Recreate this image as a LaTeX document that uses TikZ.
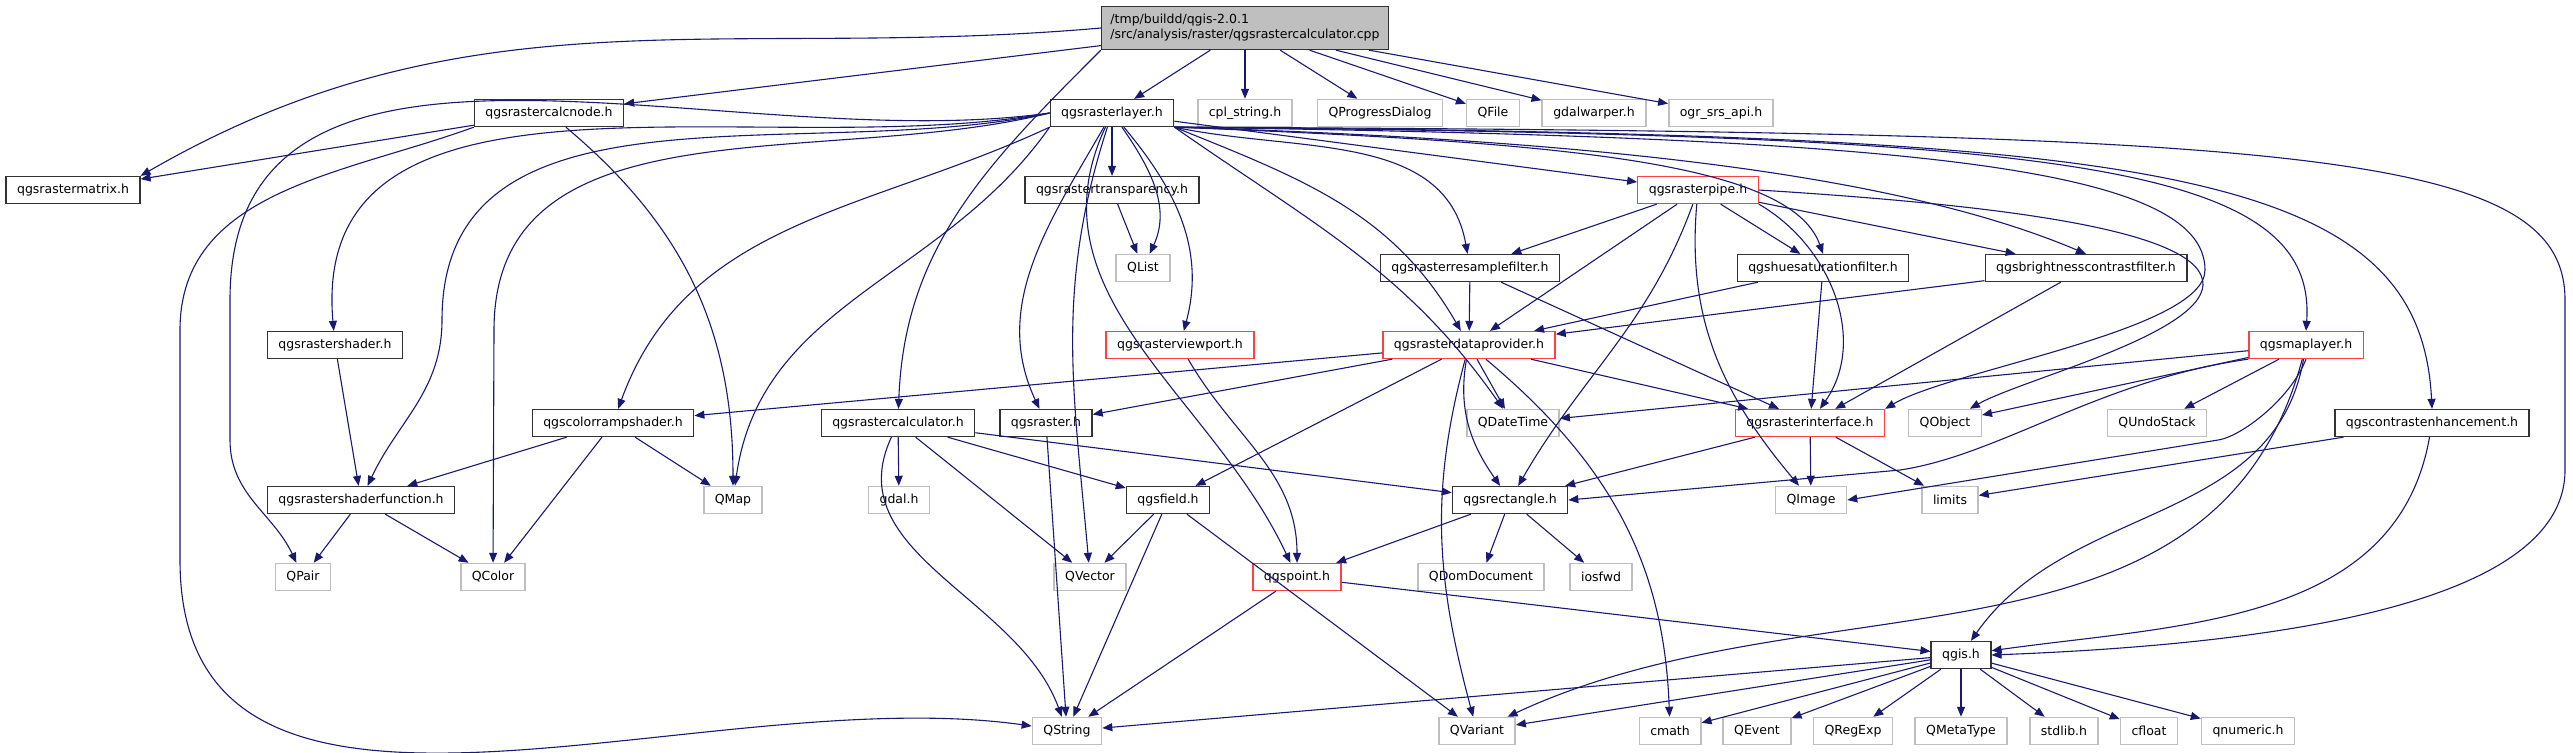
\documentclass[tikz,border=0pt]{standalone}
\usepackage{fontspec}
\setmainfont{DejaVu Sans}
\usetikzlibrary{arrows.meta}

\definecolor{edgeblue}{RGB}{25,25,112}
\definecolor{boxgray}{RGB}{191,191,191}
\definecolor{boxred}{RGB}{255,64,64}

\tikzset{
    hdr/.style={draw=black!80, line width=0.26pt, fill=white, minimum height=5.4pt,
        inner xsep=2.2pt, inner ysep=0pt, font=\fontsize{2.5}{3}\selectfont},
    redhdr/.style={hdr, draw=boxred},
    ext/.style={hdr, draw=boxgray, line width=0.3pt},
    dep/.style={draw=edgeblue, line width=0.22pt, -{Triangle[length=2pt,width=1.6pt]}}
}

\begin{document}
\begin{tikzpicture}[x=0.2pt, y=0.2pt]
    \useasboundingbox (0,0) rectangle (2573,-752);

    % Quelldatei
    \node[hdr, fill=boxgray, align=left, minimum height=8.6pt, inner xsep=1.8pt] (main) at (1245,-28)
        {/tmp/buildd/qgis-2.0.1\\/src/analysis/raster/qgsrastercalculator.cpp};

    % Zeile 1
    \node[hdr] (calcnode) at (549,-113) {qgsrastercalcnode.h};
    \node[hdr] (rasterlayer) at (1112,-113) {qgsrasterlayer.h};
    \node[ext] (cplstring) at (1245,-113) {cpl\_string.h};
    \node[ext] (progress) at (1380,-113) {QProgressDialog};
    \node[ext] (qfile) at (1493,-113) {QFile};
    \node[ext] (gdalwarper) at (1594,-113) {gdalwarper.h};
    \node[ext] (ogrsrs) at (1721,-113) {ogr\_srs\_api.h};

    % Zeile 2
    \node[hdr] (matrix) at (73,-190) {qgsrastermatrix.h};
    \node[hdr] (transparency) at (1112,-190) {qgsrastertransparency.h};
    \node[redhdr] (pipe) at (1698,-190) {qgsrasterpipe.h};

    % Zeile 3
    \node[ext] (qlist) at (1143,-268) {QList};
    \node[hdr] (resample) at (1470,-268) {qgsrasterresamplefilter.h};
    \node[hdr] (huesat) at (1823,-268) {qgshuesaturationfilter.h};
    \node[hdr] (brightness) at (2086,-268) {qgsbrightnesscontrastfilter.h};

    % Zeile 4
    \node[hdr] (shader) at (335,-345) {qgsrastershader.h};
    \node[redhdr] (viewport) at (1180,-345) {qgsrasterviewport.h};
    \node[redhdr] (provider) at (1469,-345) {qgsrasterdataprovider.h};
    \node[redhdr] (maplayer) at (2306,-345) {qgsmaplayer.h};

    % Zeile 5
    \node[hdr] (colorramp) at (613,-423) {qgscolorrampshader.h};
    \node[hdr] (calculator) at (898,-423) {qgsrastercalculator.h};
    \node[hdr] (raster) at (1046,-423) {qgsraster.h};
    \node[ext] (qdatetime) at (1513,-423) {QDateTime};
    \node[redhdr] (interface) at (1810,-423) {qgsrasterinterface.h};
    \node[ext] (qobject) at (1945,-423) {QObject};
    \node[ext] (qundostack) at (2157,-423) {QUndoStack};
    \node[hdr] (contrast) at (2432,-423) {qgscontrastenhancement.h};

    % Zeile 6
    \node[hdr] (shaderfn) at (361,-500) {qgsrastershaderfunction.h};
    \node[ext] (qmap) at (733,-500) {QMap};
    \node[ext] (gdal) at (899,-500) {gdal.h};
    \node[hdr] (field) at (1168,-500) {qgsfield.h};
    \node[hdr] (rectangle) at (1510,-500) {qgsrectangle.h};
    \node[ext] (qimage) at (1811,-500) {QImage};
    \node[ext] (limits) at (1950,-500) {limits};

    % Zeile 7
    \node[ext] (qpair) at (303,-577) {QPair};
    \node[ext] (qcolor) at (493,-577) {QColor};
    \node[ext] (qvector) at (1090,-577) {QVector};
    \node[redhdr] (point) at (1297,-577) {qgspoint.h};
    \node[ext] (qdomdoc) at (1481,-577) {QDomDocument};
    \node[ext] (iosfwd) at (1601,-577) {iosfwd};

    % Zeile 8 und 9
    \node[hdr] (qgis) at (1961,-655) {qgis.h};
    \node[ext] (qstring) at (1067,-731) {QString};
    \node[ext] (qvariant) at (1477,-731) {QVariant};
    \node[ext] (cmath) at (1670,-731) {cmath};
    \node[ext] (qevent) at (1757,-731) {QEvent};
    \node[ext] (qregexp) at (1853,-731) {QRegExp};
    \node[ext] (qmetatype) at (1961,-731) {QMetaType};
    \node[ext] (stdlib) at (2064,-731) {stdlib.h};
    \node[ext] (cfloat) at (2149,-731) {cfloat};
    \node[ext] (qnumeric) at (2248,-731) {qnumeric.h};

    % Kanten der Quelldatei
    \draw[dep] (main.west) to[out=185,in=30] (matrix.north east);
    \draw[dep] (main) -- (calcnode);
    \draw[dep] (main.south west) to[out=225,in=88] (calculator);
    \draw[dep] (main) -- (rasterlayer);
    \foreach \n in {cplstring,progress,qfile,gdalwarper,ogrsrs}
        \draw[dep] (main) -- (\n);

    % qgsrastercalcnode.h
    \draw[dep] (calcnode) -- (matrix);
    \draw[dep] (calcnode) to[out=-40,in=90] (qmap);
    \draw[dep] (calcnode.south west) to[out=200,in=90] (180,-330) -- (180,-560)
        to[out=-90,in=172] (qstring);

    % qgsrasterlayer.h nach links
    \draw[dep] (rasterlayer.west) to[out=188,in=90] (230,-300) -- (230,-440) to[out=-90,in=115] (qpair);
    \draw[dep] (rasterlayer.west) to[out=190,in=95] (shader);
    \draw[dep] (rasterlayer.west) to[out=192,in=90] (442,-320) to[out=-90,in=65] (shaderfn);
    \draw[dep] (rasterlayer.west) to[out=194,in=90] (494,-330) -- (qcolor);
    \draw[dep] (rasterlayer.south west) to[out=205,in=70] (colorramp);
    \draw[dep] (rasterlayer.south west) to[out=235,in=82] (qmap);

    % qgsrasterlayer.h nach unten
    \draw[dep] (rasterlayer) -- (transparency);
    \draw[dep] (rasterlayer) to[out=-55,in=65] (qlist);
    \draw[dep] (rasterlayer) to[out=240,in=115] (raster);
    \draw[dep] (rasterlayer) to[out=252,in=95] (qvector);
    \draw[dep] (rasterlayer) to[out=245,in=115] (point);
    \draw[dep] (rasterlayer) to[out=-50,in=75] (viewport);
    \draw[dep] (rasterlayer.south east) to[out=-35,in=125] (qdatetime);
    \draw[dep] (rasterlayer.south east) to[out=-22,in=120] (provider);
    \draw[dep] (rasterlayer.south east) to[out=-12,in=100] (resample);

    % qgsrasterlayer.h nach rechts
    \draw[dep] (rasterlayer) -- (pipe);
    \draw[dep] (rasterlayer.south east) .. controls (1550,-142) and (1790,-160) .. (huesat.north);
    \draw[dep] (rasterlayer.south east) .. controls (1600,-140) and (1900,-175) .. (brightness.north);
    \draw[dep] (rasterlayer.south east) .. controls (1900,-137) and (2205,-165) .. (2205,-270)
        .. controls (2205,-330) and (1950,-370) .. (interface.north east);
    \draw[dep] (rasterlayer.south east) .. controls (2050,-135) and (2318,-160) .. (maplayer.north);
    \draw[dep] (rasterlayer.south east) .. controls (2150,-134) and (2420,-165) .. (contrast.north);
    \draw[dep] (rasterlayer.south east) .. controls (2300,-132) and (2565,-150) .. (2565,-300) -- (2565,-470)
        .. controls (2565,-610) and (2250,-645) .. (qgis.east);

    % qgsrastertransparency.h
    \draw[dep] (transparency) -- (qlist);

    % qgsrasterpipe.h
    \draw[dep] (pipe) -- (resample);
    \draw[dep] (pipe) -- (provider);
    \draw[dep] (pipe) -- (huesat);
    \draw[dep] (pipe) -- (brightness);
    \draw[dep] (pipe.south east) to[out=-30,in=55] (interface);
    \draw[dep] (pipe.east) .. controls (2000,-205) and (2205,-230) .. (2203,-285)
        .. controls (2200,-335) and (2020,-380) .. (qobject);
    \draw[dep] (pipe) to[out=-110,in=60] (rectangle);
    \draw[dep] (pipe) to[out=-95,in=130] (qimage);

    % Filter
    \draw[dep] (resample) -- (provider);
    \draw[dep] (resample) -- (interface);
    \draw[dep] (huesat) -- (provider);
    \draw[dep] (huesat) -- (interface);
    \draw[dep] (brightness) -- (provider);
    \draw[dep] (brightness) -- (interface);

    % qgsrasterviewport.h
    \draw[dep] (viewport) to[out=-60,in=90] (point);

    % qgsrasterdataprovider.h
    \draw[dep] (provider) -- (colorramp);
    \draw[dep] (provider) -- (raster);
    \draw[dep] (provider) -- (field);
    \draw[dep] (provider) to[out=-105,in=105] (qvariant);
    \draw[dep] (provider) to[out=-100,in=125] (rectangle);
    \draw[dep] (provider) -- (qdatetime);
    \draw[dep] (provider) to[out=-40,in=92] (cmath);
    \draw[dep] (provider) -- (interface);

    % qgsmaplayer.h
    \draw[dep] (maplayer) -- (qdatetime);
    \draw[dep] (maplayer) -- (qobject);
    \draw[dep] (maplayer) -- (qundostack);
    \draw[dep] (maplayer.south west) .. controls (2100,-380) and (2000,-455) .. (1900,-470)
        -- (rectangle.east);
    \draw[dep] (maplayer.south) .. controls (2290,-400) and (2240,-437) .. (2218,-440)
        -- (qimage.east);
    \draw[dep] (maplayer) to[out=-105,in=25] (qvariant);
    \draw[dep] (maplayer) to[out=-100,in=55] (qgis);

    % Shader
    \draw[dep] (colorramp) -- (shaderfn);
    \draw[dep] (colorramp) -- (qcolor);
    \draw[dep] (colorramp) -- (qmap);
    \draw[dep] (shader) -- (shaderfn);
    \draw[dep] (shaderfn) -- (qpair);
    \draw[dep] (shaderfn) -- (qcolor);

    % qgsrastercalculator.h
    \draw[dep] (calculator) -- (gdal);
    \draw[dep] (calculator) -- (qvector);
    \draw[dep] (calculator) -- (field);
    \draw[dep] (calculator) -- (rectangle);
    \draw[dep] (calculator) to[out=-115,in=110] (qstring);

    % weitere Header
    \draw[dep] (raster) -- (qstring);
    \draw[dep] (field) -- (qvector);
    \draw[dep] (field) -- (qstring);
    \draw[dep] (field) -- (qvariant);
    \draw[dep] (rectangle) -- (qdomdoc);
    \draw[dep] (rectangle) -- (iosfwd);
    \draw[dep] (rectangle) -- (point);
    \draw[dep] (interface) -- (rectangle);
    \draw[dep] (interface) -- (qimage);
    \draw[dep] (interface) -- (limits);
    \draw[dep] (contrast) -- (limits);
    \draw[dep] (contrast) to[out=-100,in=8] (qgis);
    \draw[dep] (point) -- (qstring);
    \draw[dep] (point) -- (qgis);

    % qgis.h
    \foreach \n in {qstring,qvariant,cmath,qevent,qregexp,qmetatype,stdlib,cfloat,qnumeric}
        \draw[dep] (qgis) -- (\n);
\end{tikzpicture}
\end{document}
